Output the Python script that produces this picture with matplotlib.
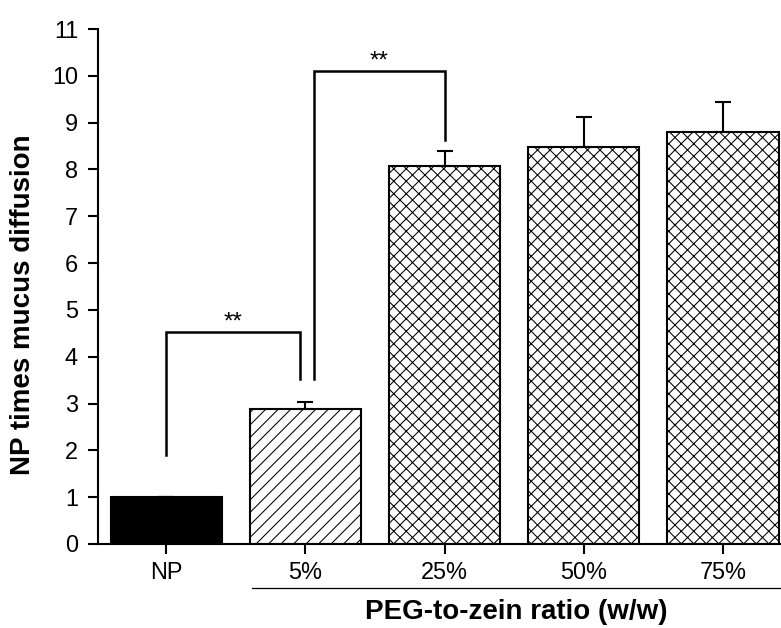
#!/usr/bin/env python3
import numpy as np
import matplotlib
matplotlib.use("Agg")
import matplotlib.pyplot as plt

plt.rcParams['font.family'] = ['Liberation Sans', 'DejaVu Sans']
plt.rcParams['hatch.linewidth'] = 0.5
plt.rcParams['hatch.color'] = 'black'

# values
groups = ["NP", "5%", "25%", "50%", "75%"]
means = [1.00, 2.89, 8.08, 8.47, 8.80]
errs = [0.0, 0.15, 0.32, 0.64, 0.64]
hatches = [None, "////", "xxxx", "xxxx", "xxxx"]
fills = ["black", "white", "white", "white", "white"]

# significance brackets: (x_left, x_right, y_left_bottom, y_top, y_right_bottom)
brackets = [(0.0, 0.96, 1.90, 4.52, 3.52),
            (1.06, 2.00, 3.52, 10.10, 8.63)]
stars_text = ["**", "**"]


def create_plot():
    fig = plt.figure(figsize=(781 / 150, 628 / 150), dpi=150)
    ax = fig.add_axes([98 / 781, 1 - 544 / 628, 682 / 781, 515 / 628])

    x = np.arange(len(groups))
    for i in range(len(groups)):
        ax.bar(x[i], means[i], width=0.8, color=fills[i], edgecolor='black',
               linewidth=1.0, hatch=hatches[i], zorder=2)
    ax.errorbar(x, means, yerr=[np.zeros(len(errs)), errs], fmt='none',
                ecolor='black', elinewidth=1.0, capsize=3.8, capthick=1.0,
                zorder=3)

    for (xl, xr, yl, yt, yr), s in zip(brackets, stars_text):
        ax.plot([xl, xl, xr, xr], [yl, yt, yt, yr], color='black',
                linewidth=1.2, solid_joinstyle='miter', zorder=4)
        ax.text((xl + xr) / 2, yt + 0.2, s, ha='center', va='center',
                fontsize=11.5)

    ax.set_xlim(-0.49, 4.41)
    ax.set_ylim(0, 11)
    ax.set_yticks(range(0, 12))
    ax.set_xticks(x)
    ax.set_xticklabels(groups)
    ax.spines['top'].set_visible(False)
    ax.spines['right'].set_visible(False)
    ax.spines['left'].set_linewidth(1.0)
    ax.spines['bottom'].set_linewidth(1.0)
    ax.tick_params(axis='both', direction='out', length=4.8, width=1.0,
                   labelsize=11.3)
    ax.tick_params(axis='y', pad=4.8)
    ax.tick_params(axis='x', pad=3.8)

    # line under the PEG groups
    ax.plot([0.62, 4.41], [-0.94, -0.94], color='black', linewidth=0.6,
            clip_on=False)

    fig.text(516 / 781, 1 - 612 / 628, "PEG-to-zein ratio (w/w)",
             ha='center', va='center', fontsize=13.3, fontweight='bold')
    fig.text(23 / 781, 1 - 305 / 628, "NP times mucus diffusion",
             ha='center', va='center', rotation=90, fontsize=13.3,
             fontweight='bold')

    fig.savefig("out.png", dpi=150)


if __name__ == "__main__":
    create_plot()
